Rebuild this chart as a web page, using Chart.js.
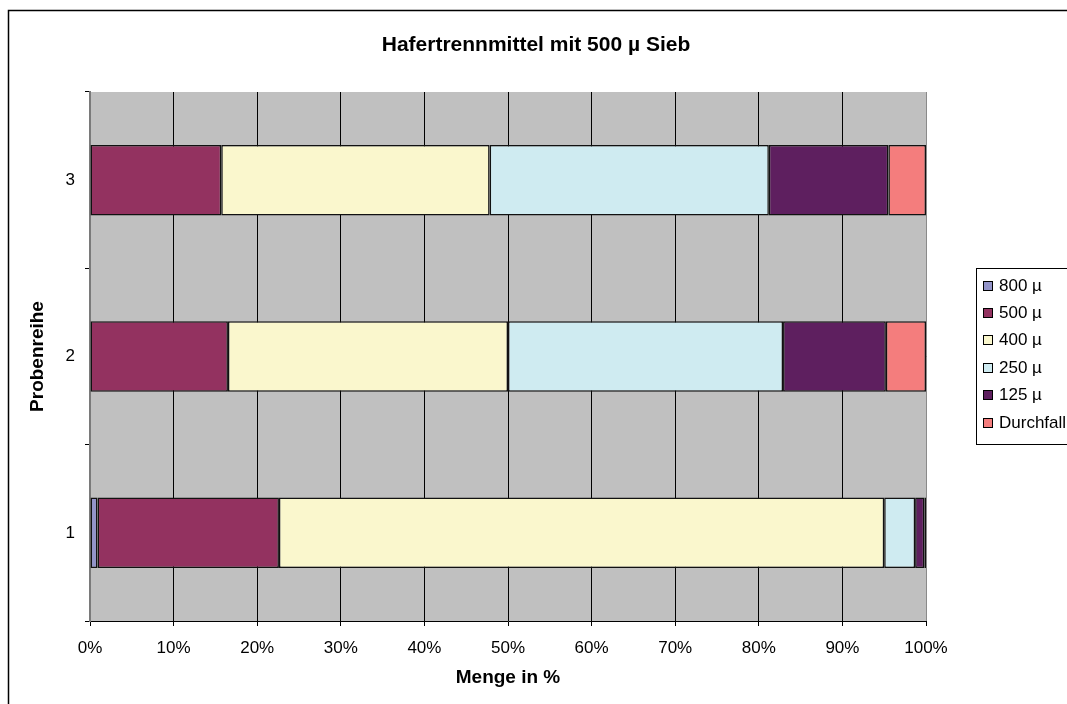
<!DOCTYPE html>
<html>
<head>
<meta charset="utf-8">
<script src="https://cdn.jsdelivr.net/npm/chart.js@4/dist/chart.umd.min.js"></script>
<style>
  html, body { margin: 0; padding: 0; background: #ffffff; }
  #wrap { width: 1067px; height: 704px; }
</style>
</head>
<body>
<div id="wrap"><canvas id="c" width="1067" height="704"></canvas></div>
<script>
// Probenreihen (sample series) and sieve fractions in percent
const categories = ['1', '2', '3'];
const seriesNames = ['800 µ', '500 µ', '400 µ', '250 µ', '125 µ', 'Durchfall'];
const s800 = [0.9, 0, 0];
const s500 = [21.7, 16.5, 15.7];
const s400 = [72.4, 33.5, 32.1];
const s250 = [3.7, 32.9, 33.4];
const s125 = [1.1, 12.3, 14.3];
const sDurchfall = [0.2, 4.8, 4.5];
const xTicks = [0, 10, 20, 30, 40, 50, 60, 70, 80, 90, 100];
const chartTitle = 'Hafertrennmittel mit 500 µ Sieb';
const xTitle = 'Menge in %';
const yTitle = 'Probenreihe';

const seriesValues = [s800, s500, s400, s250, s125, sDurchfall];
const seriesColors = ['#9394c9', '#933260', '#faf7cd', '#cfebf1', '#5e1f5f', '#f47d7d'];
const FONT = '"Liberation Sans", Arial, sans-serif';

// Frame, plot background and title
const framePlugin = {
  id: 'frame',
  beforeDraw(chart) {
    const { ctx, chartArea: a } = chart;
    ctx.save();
    ctx.fillStyle = '#ffffff';
    ctx.fillRect(0, 0, chart.width, chart.height);
    ctx.strokeStyle = '#000000';
    ctx.lineWidth = 1.5;
    ctx.strokeRect(8.5, 10.5, chart.width + 20, chart.height + 20);
    ctx.fillStyle = '#c0c0c0';
    ctx.fillRect(a.left, a.top, a.right - a.left, a.bottom - a.top);
    ctx.restore();
  },
  afterDraw(chart) {
    const { ctx, chartArea: a } = chart;
    ctx.save();
    // right edge of the plot area
    ctx.strokeStyle = '#8a8a8a';
    ctx.lineWidth = 1;
    ctx.beginPath();
    ctx.moveTo(Math.round(a.right) + 0.5, a.top);
    ctx.lineTo(Math.round(a.right) + 0.5, a.bottom);
    ctx.stroke();
    ctx.fillStyle = '#000000';
    ctx.font = 'bold 21px ' + FONT;
    ctx.textAlign = 'center';
    ctx.textBaseline = 'middle';
    ctx.fillText(chartTitle, 536, 45);
    ctx.restore();
  }
};

// Boxed legend at the right side
const boxLegendPlugin = {
  id: 'boxLegend',
  afterDraw(chart) {
    const { ctx } = chart;
    const x0 = 976.5, y0 = 268.5, w = 120, h = 176;
    ctx.save();
    ctx.fillStyle = '#ffffff';
    ctx.fillRect(x0, y0, w, h);
    ctx.strokeStyle = '#000000';
    ctx.lineWidth = 1;
    ctx.strokeRect(x0, y0, w, h);
    ctx.font = '17px ' + FONT;
    ctx.textBaseline = 'middle';
    ctx.textAlign = 'left';
    chart.data.datasets.forEach((ds, i) => {
      const cy = 285 + i * 27.4;
      const top = Math.round(cy - 4.5) + 0.5;
      ctx.fillStyle = ds.backgroundColor;
      ctx.fillRect(983.5, top, 9, 9);
      ctx.strokeStyle = '#000000';
      ctx.strokeRect(983.5, top, 9, 9);
      ctx.fillStyle = '#000000';
      ctx.fillText(ds.label, 999, cy + 1);
    });
    ctx.restore();
  }
};

const datasets = seriesNames.map((name, i) => ({
  label: name,
  data: seriesValues[i],
  backgroundColor: seriesColors[i],
  borderColor: '#111111',
  borderWidth: 1.5,
  borderSkipped: false,
  barPercentage: 0.4,
  categoryPercentage: 1.0
}));

new Chart(document.getElementById('c'), {
  type: 'bar',
  data: { labels: categories, datasets },
  options: {
    indexAxis: 'y',
    responsive: false,
    animation: false,
    devicePixelRatio: 1,
    layout: { padding: { top: 92, left: 0, right: 141, bottom: 0 } },
    plugins: {
      legend: { display: false },
      title: { display: false },
      tooltip: { enabled: false }
    },
    scales: {
      x: {
        stacked: true,
        min: 0,
        max: 100,
        afterFit(scale) { scale.height = 83; },
        afterBuildTicks(scale) { scale.ticks = xTicks.map(v => ({ value: v })); },
        ticks: {
          color: '#000000',
          font: { family: FONT, size: 17 },
          padding: 12,
          maxRotation: 0,
          callback: v => v + '%'
        },
        grid: { color: '#000000', lineWidth: 1, tickLength: 5, drawTicks: true },
        border: { color: '#000000', width: 1 },
        title: {
          display: true,
          text: xTitle,
          color: '#000000',
          font: { family: FONT, size: 19, weight: 'bold' },
          padding: { top: 0, bottom: 15 }
        }
      },
      y: {
        stacked: true,
        reverse: true,
        afterFit(scale) { scale.width = 90; },
        ticks: {
          color: '#000000',
          font: { family: FONT, size: 17 },
          padding: 10
        },
        grid: { drawOnChartArea: false, color: '#000000', tickLength: 5, offset: true },
        border: { color: '#7a7a7a', width: 2 },
        title: {
          display: true,
          text: yTitle,
          color: '#000000',
          font: { family: FONT, size: 19, weight: 'bold' },
          padding: { top: 26, bottom: 0 }
        }
      }
    }
  },
  plugins: [framePlugin, boxLegendPlugin]
});
</script>
</body>
</html>
